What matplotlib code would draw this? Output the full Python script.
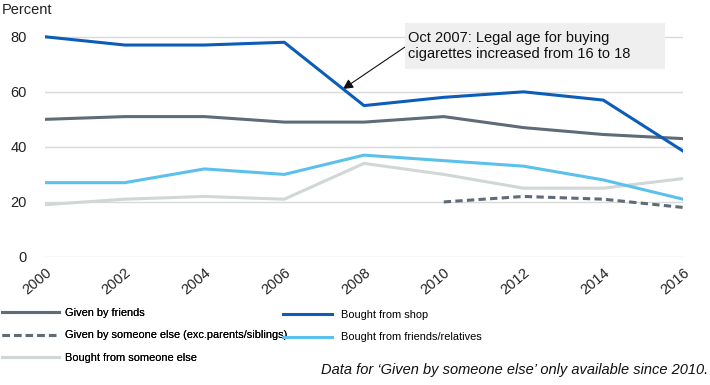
import matplotlib
matplotlib.use("Agg")
import matplotlib.pyplot as plt
from matplotlib.patches import Rectangle

# data
years = [2000, 2002, 2004, 2006, 2008, 2010, 2012, 2014, 2016]
given_friends = [50, 51, 51, 49, 49, 51, 47, 44.5, 43]
bought_shop = [80, 77, 77, 78, 55, 58, 60, 57, 38.5]
bought_friends_rel = [27, 27, 32, 30, 37, 35, 33, 28, 21]
bought_someone = [19, 21, 22, 21, 34, 30, 25, 25, 28.5]
years_else = [2010, 2012, 2014, 2016]
given_someone_else = [20, 22, 21, 18]

c_shop = "#0B5DB8"
c_friends = "#5F6B78"
c_lblue = "#5BC1EC"
c_lgray = "#D1D6D6"

plt.rcParams["font.family"] = ["Liberation Sans", "DejaVu Sans"]
leg_font = {"family": "Liberation Sans", "size": 7.9}

fig = plt.figure(figsize=(7.1, 3.85), dpi=100)
ax = fig.add_axes([45 / 710, 1 - 257 / 385, 638 / 710, 234 / 385])

l1, = ax.plot(years, given_friends, color=c_friends, lw=2.2, zorder=4, label="Given by friends")
l2, = ax.plot(years_else, given_someone_else, color=c_friends, lw=2.2, ls=(0, (2.4, 1.4)),
              zorder=4, label="Given by someone else (exc.parents/siblings)")
l3, = ax.plot(years, bought_someone, color=c_lgray, lw=2.2, zorder=2, label="Bought from someone else")
l4, = ax.plot(years, bought_shop, color=c_shop, lw=2.2, zorder=5, label="Bought from shop")
l5, = ax.plot(years, bought_friends_rel, color=c_lblue, lw=2.2, zorder=3,
              label="Bought from friends/relatives")

ax.set_xlim(2000, 2016)
ax.set_ylim(0, 85)
ax.set_yticks([0, 20, 40, 60, 80])
ax.set_xticks(years)
ax.set_xticklabels([str(y) for y in years], rotation=40, ha="right", rotation_mode="anchor")
ax.tick_params(axis="both", length=0, labelsize=10.5, colors="#222222")
ax.tick_params(axis="y", pad=13)
ax.tick_params(axis="x", pad=6)
ax.grid(axis="y", color="#D9D9D9", lw=1)
ax.set_axisbelow(True)
for s in ax.spines.values():
    s.set_visible(False)

fig.text(2 / 710, 1 - 10 / 385, "Percent", fontsize=10.5, va="center", ha="left", color="#222222")

# annotation box
fig.patches.append(Rectangle((405 / 710, 1 - 69 / 385), 260 / 710, 46 / 385,
                             transform=fig.transFigure, fc="#EFEFEF", ec="none", zorder=1))
fig.text(408 / 710, 1 - 46 / 385, "Oct 2007: Legal age for buying\ncigarettes increased from 16 to 18",
         fontsize=10.5, va="center", ha="left", color="#111111", linespacing=1.2)
ax.annotate("", xy=(2007.47, 61), xytext=(405 / 710, 1 - 47 / 385), textcoords="figure fraction",
            arrowprops=dict(arrowstyle="-|>", color="#111111", lw=0.8, mutation_scale=15,
                            shrinkA=0, shrinkB=0))

leg1 = fig.legend(handles=[l1, l2, l3], loc="upper left", bbox_to_anchor=(2 / 710, 1 - 308 / 385),
                  frameon=False, prop=leg_font, handlelength=5.2, handletextpad=0.55,
                  labelspacing=1.13, borderaxespad=0, borderpad=0)
fig.legend(handles=[l4, l5], loc="upper left", bbox_to_anchor=(283 / 710, 1 - 310 / 385),
           frameon=False, prop=leg_font, handlelength=4.5, handletextpad=0.8,
           labelspacing=1.13, borderaxespad=0, borderpad=0)
fig.add_artist(leg1)

fig.text(708 / 710, 1 - 370 / 385, "Data for \u2018Given by someone else\u2019 only available since 2010.",
         fontsize=10.5, style="italic", ha="right", va="center", color="#111111")

fig.savefig("out.png", dpi=100)
